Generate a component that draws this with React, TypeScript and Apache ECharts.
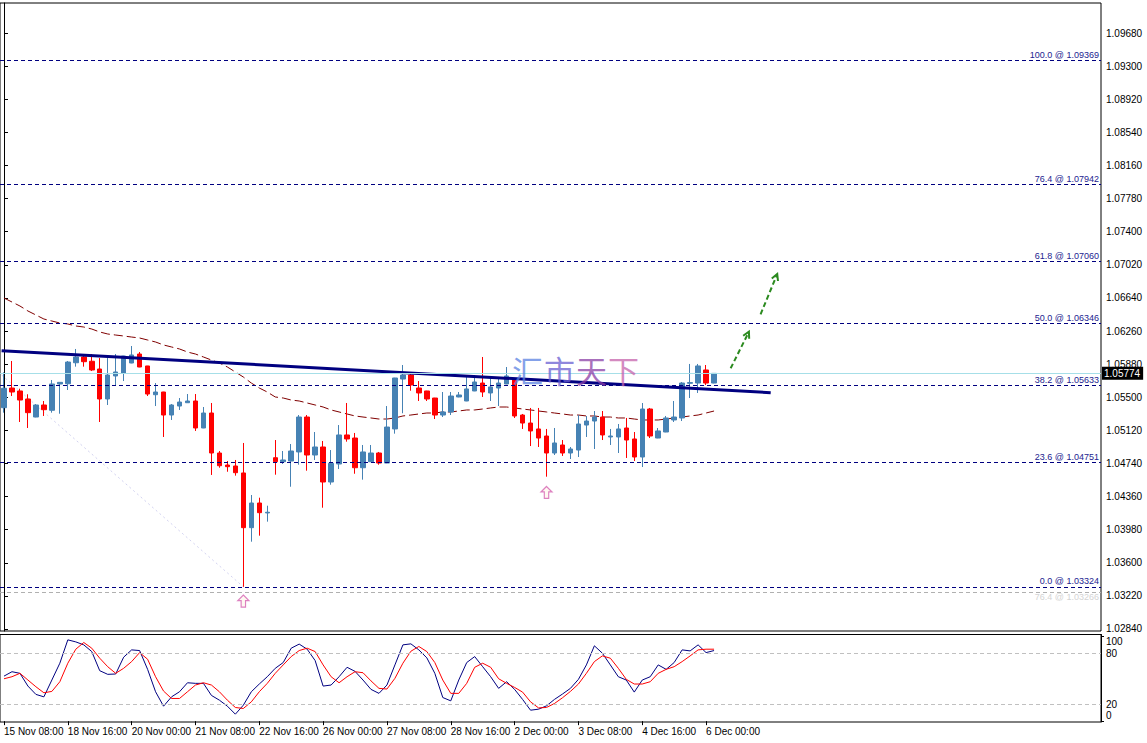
import React, { useEffect, useRef } from 'react';
import * as echarts from 'echarts';

const SLOTS = 138;

const timeLabels = ['15 Nov 08:00', '18 Nov 16:00', '20 Nov 00:00', '21 Nov 08:00', '22 Nov 16:00', '26 Nov 00:00', '27 Nov 08:00', '28 Nov 16:00', '2 Dec 00:00', '3 Dec 08:00', '4 Dec 16:00', '6 Dec 00:00'];

const priceTicks = [1.0284, 1.0322, 1.036, 1.0398, 1.0436, 1.0474, 1.0512, 1.055, 1.0588, 1.0626, 1.0664, 1.0702, 1.074, 1.0778, 1.0816, 1.0854, 1.0892, 1.093, 1.0968];

const openP = [1.05380, 1.05606, 1.05572, 1.05480, 1.05273, 1.05411, 1.05350, 1.05652, 1.05655, 1.05896, 1.05962, 1.05913, 1.05824, 1.05480, 1.05744, 1.05778, 1.05893, 1.05996, 1.05859, 1.05529, 1.05560, 1.05296, 1.05399, 1.05437, 1.05457, 1.05147, 1.05319, 1.04860, 1.04722, 1.04711, 1.04631, 1.04003, 1.04286, 1.04172, 1.04806, 1.04760, 1.04768, 1.04872, 1.05273, 1.04837, 1.04929, 1.04527, 1.04734, 1.05067, 1.05032, 1.04691, 1.04760, 1.04860, 1.04745, 1.05136, 1.05709, 1.05755, 1.05606, 1.05572, 1.05491, 1.05296, 1.05331, 1.05503, 1.05457, 1.05572, 1.05663, 1.05549, 1.05606, 1.05652, 1.05698, 1.05296, 1.05204, 1.05136, 1.05055, 1.04860, 1.04952, 1.04860, 1.04894, 1.05181, 1.05227, 1.05273, 1.05044, 1.05044, 1.05147, 1.05021, 1.04814, 1.05365, 1.05032, 1.05101, 1.05239, 1.05262, 1.05660, 1.05663, 1.05813, 1.05663];
const closeP = [1.05603, 1.05560, 1.05468, 1.05323, 1.05411, 1.05357, 1.05652, 1.05671, 1.05904, 1.05962, 1.05908, 1.05813, 1.05480, 1.05755, 1.05790, 1.05973, 1.05985, 1.05847, 1.05537, 1.05560, 1.05296, 1.05411, 1.05445, 1.05457, 1.05147, 1.05319, 1.04860, 1.04714, 1.04703, 1.04634, 1.04003, 1.04286, 1.04175, 1.04180, 1.04760, 1.04780, 1.04883, 1.05273, 1.04837, 1.04929, 1.04527, 1.04742, 1.05067, 1.05021, 1.04691, 1.04872, 1.04860, 1.04745, 1.05158, 1.05721, 1.05755, 1.05641, 1.05549, 1.05480, 1.05296, 1.05331, 1.05514, 1.05526, 1.05595, 1.05675, 1.05560, 1.05618, 1.05663, 1.05744, 1.05285, 1.05204, 1.05113, 1.05032, 1.04860, 1.04975, 1.04860, 1.04906, 1.05193, 1.05227, 1.05273, 1.05067, 1.05055, 1.05136, 1.05009, 1.04814, 1.05365, 1.05055, 1.05113, 1.05262, 1.05273, 1.05663, 1.05668, 1.05859, 1.05663, 1.05774];
const lowP = [1.05323, 1.05514, 1.05216, 1.05147, 1.05270, 1.05285, 1.05323, 1.05311, 1.05583, 1.05851, 1.05851, 1.05801, 1.05216, 1.05411, 1.05629, 1.05686, 1.05890, 1.05845, 1.05514, 1.05399, 1.05044, 1.05239, 1.05354, 1.05435, 1.05113, 1.05145, 1.04608, 1.04691, 1.04645, 1.04600, 1.03324, 1.03842, 1.03911, 1.04072, 1.04611, 1.04734, 1.04473, 1.04726, 1.04657, 1.04780, 1.04232, 1.04496, 1.04676, 1.04990, 1.04622, 1.04554, 1.04758, 1.04726, 1.04743, 1.05082, 1.05316, 1.05575, 1.05457, 1.05457, 1.05250, 1.05273, 1.05296, 1.05500, 1.05455, 1.05570, 1.05503, 1.05457, 1.05399, 1.05650, 1.05262, 1.05136, 1.04940, 1.04929, 1.04588, 1.04837, 1.04826, 1.04791, 1.04814, 1.05044, 1.04906, 1.05009, 1.04952, 1.04860, 1.04803, 1.04768, 1.04699, 1.05032, 1.05030, 1.05099, 1.05216, 1.05227, 1.05491, 1.05549, 1.05641, 1.05660];
const highP = [1.05786, 1.05916, 1.05598, 1.05534, 1.05422, 1.05457, 1.05698, 1.05673, 1.05916, 1.06054, 1.05996, 1.05996, 1.05950, 1.05950, 1.05996, 1.05975, 1.06088, 1.06019, 1.05860, 1.05663, 1.05562, 1.05422, 1.05491, 1.05537, 1.05537, 1.05388, 1.05434, 1.04883, 1.04768, 1.04780, 1.04975, 1.04378, 1.04347, 1.04255, 1.05009, 1.04883, 1.04963, 1.05296, 1.05296, 1.05101, 1.04998, 1.04894, 1.05181, 1.05434, 1.05090, 1.04952, 1.04952, 1.04872, 1.05399, 1.05723, 1.05870, 1.05782, 1.05686, 1.05574, 1.05493, 1.05560, 1.05560, 1.05560, 1.05732, 1.05755, 1.05962, 1.05721, 1.05721, 1.05847, 1.05700, 1.05308, 1.05377, 1.05377, 1.05136, 1.05147, 1.05009, 1.04929, 1.05296, 1.05285, 1.05342, 1.05342, 1.05136, 1.05193, 1.05262, 1.05101, 1.05434, 1.05377, 1.05147, 1.05285, 1.05457, 1.05675, 1.05882, 1.05882, 1.05870, 1.05776];

const maLine = [1.06639, 1.06593, 1.06547, 1.06490, 1.06444, 1.06398, 1.06375, 1.06352, 1.06341, 1.06318, 1.06306, 1.06283, 1.06249, 1.06226, 1.06214, 1.06203, 1.06191, 1.06180, 1.06157, 1.06134, 1.06100, 1.06077, 1.06054, 1.06019, 1.05996, 1.05962, 1.05927, 1.05893, 1.05847, 1.05790, 1.05732, 1.05663, 1.05606, 1.05560, 1.05503, 1.05491, 1.05468, 1.05457, 1.05434, 1.05411, 1.05388, 1.05354, 1.05331, 1.05308, 1.05285, 1.05273, 1.05262, 1.05250, 1.05250, 1.05262, 1.05285, 1.05296, 1.05308, 1.05319, 1.05319, 1.05331, 1.05331, 1.05342, 1.05354, 1.05354, 1.05365, 1.05377, 1.05388, 1.05388, 1.05377, 1.05365, 1.05354, 1.05342, 1.05331, 1.05319, 1.05308, 1.05296, 1.05296, 1.05285, 1.05285, 1.05273, 1.05273, 1.05262, 1.05262, 1.05250, 1.05239, 1.05239, 1.05239, 1.05250, 1.05262, 1.05273, 1.05285, 1.05296, 1.05319, 1.05342];

const stochK = [53, 58.2, 56.3, 41.3, 31.5, 28.6, 48.4, 68.2, 95.7, 93.3, 89.8, 81.9, 59.4, 55.1, 55.5, 75.3, 83.9, 83.1, 61, 34.6, 17.6, 28.6, 34.6, 45.2, 44.5, 44.5, 30.3, 24.7, 17.6, 8.2, 18.8, 34.6, 43.7, 52.3, 62.2, 69, 85.9, 90.7, 84.7, 71.3, 41.3, 42.5, 52.3, 63.4, 58.6, 48.4, 37.4, 32.7, 42.5, 66.2, 89.8, 91, 83.9, 74.5, 56.3, 27.8, 23.9, 48.4, 69, 76, 64.1, 52.3, 38.6, 46.4, 37.4, 25.6, 12.9, 14.1, 18, 25.6, 31.9, 38.6, 49.2, 66.2, 88.7, 80, 66.2, 52.3, 48.4, 34.2, 48.4, 52.3, 66.2, 61, 69, 83.9, 82.7, 89.8, 80.7, 83.1];
const stochD = [49.9, 52.3, 56.3, 48.4, 40.5, 33.4, 35, 46.4, 68.2, 84.7, 92.6, 85.9, 74.1, 64.1, 56.3, 62.2, 70.1, 80.7, 72.9, 52.3, 35.4, 26.7, 26.7, 34.6, 42.5, 45.2, 42.5, 34.6, 24.7, 16.1, 14.9, 22.7, 34.6, 44.5, 56.3, 66.2, 76, 83.1, 85.9, 81.9, 66.2, 52.3, 45.2, 52.3, 58.2, 57, 47.4, 38.6, 37.8, 50.4, 68.2, 82.3, 87.9, 81.9, 69, 48.4, 32.7, 32.7, 44.5, 63.4, 68.2, 63.4, 49.9, 44.5, 39.7, 34.2, 22.7, 15.6, 16.1, 20.8, 27.5, 35, 43.7, 56.3, 70.1, 76.8, 74.1, 62.2, 49.2, 43.7, 43.7, 46.4, 56.3, 61, 64.1, 70.1, 76.8, 83.9, 84.7, 84.7];

const fibRatios = ['100.0', '76.4', '61.8', '50.0', '38.2', '23.6', '0.0'];
const fibPrices = [1.09369, 1.07942, 1.0706, 1.06346, 1.05633, 1.04751, 1.03324];
const oldFibRatio = '76.4';
const oldFibPrice = 1.03266;
const lastPrice = 1.05774;

const trendLine = [[-0.3, 1.06034], [96.1, 1.05552]];
const fibDiagonal = [[-0.3, 1.05755], [30, 1.03324]];
const forecastArrows = [[91.08, 1.05832, 93.37, 1.06252], [94.83, 1.06452, 96.92, 1.06914]];
const lowMarks = [[30, 1.03161], [68, 1.04407]];

const FONT = "'Liberation Sans', Arial, sans-serif";

export default function App() {
  const ref = useRef<HTMLDivElement>(null);
  useEffect(() => {
    if (!ref.current) return;
    const chart = echarts.init(ref.current, null, { renderer: 'svg' });
    const cats = Array.from({ length: SLOTS }, (_, i) => String(i));
    const candles = openP.map((o, i) => [o, closeP[i], lowP[i], highP[i]]);
    const tickInt = (i: number) => i % 8 === 0 && i / 8 < timeLabels.length;

    const fibData: any[] = fibPrices.map((p, i) => ({
      yAxis: p,
      lineStyle: { color: '#000080', type: [4, 3], width: 1 },
      label: {
        show: true, position: 'insideEndTop', distance: [2, 1],
        formatter: `${fibRatios[i]} @ ${p.toFixed(5)}`,
        color: '#23238f', fontSize: 9, fontFamily: FONT,
      },
    }));
    fibData.push({
      yAxis: oldFibPrice,
      lineStyle: { color: '#b0b0b0', type: [4, 3], width: 1 },
      label: {
        show: true, position: 'insideEndBottom', distance: [2, 1],
        formatter: `${oldFibRatio} @ ${oldFibPrice.toFixed(5)}`,
        color: '#d4d4d4', fontSize: 9, fontFamily: FONT,
      },
    });
    fibData.push({
      yAxis: lastPrice,
      lineStyle: { color: '#a6dfe8', type: 'solid', width: 1 },
      label: {
        show: true, position: 'end', distance: 1,
        formatter: lastPrice.toFixed(5),
        color: '#fff', backgroundColor: '#000', padding: [2, 3, 1, 2],
        fontSize: 10, fontFamily: FONT,
      },
    });

    const option: any = {
      animation: false,
      backgroundColor: '#ffffff',
      grid: [
        { left: -1.7, top: 3, width: 1102.7, height: 628, show: true, borderColor: '#000', borderWidth: 1 },
        { left: -1.7, top: 634.5, width: 1102.7, height: 87.5, show: true, borderColor: '#000', borderWidth: 1 },
      ],
      xAxis: [
        { type: 'category', gridIndex: 0, data: cats, boundaryGap: true, show: false },
        { type: 'value', gridIndex: 0, min: -0.5, max: SLOTS - 0.5, show: false },
        {
          type: 'category', gridIndex: 1, data: cats, boundaryGap: true,
          axisLine: { show: false },
          axisTick: { show: true, alignWithLabel: true, interval: tickInt, length: 4, lineStyle: { color: '#000' } },
          axisLabel: {
            interval: tickInt, align: 'left', margin: 4, color: '#000', fontSize: 10, fontFamily: FONT,
            showMinLabel: true,
            formatter: (_v: string, i: number) => timeLabels[i / 8] ?? '',
          },
          splitLine: { show: false },
        },
      ],
      yAxis: [
        {
          type: 'value', gridIndex: 0, position: 'right', min: 1.02817, max: 1.10025,
          axisLine: { show: true, lineStyle: { color: '#000' } },
          axisTick: { show: true, customValues: priceTicks, length: 4, lineStyle: { color: '#000' } },
          axisLabel: {
            customValues: priceTicks, formatter: (v: number) => v.toFixed(5),
            color: '#000', fontSize: 10, fontFamily: FONT, margin: 5,
          },
          splitLine: { show: false },
        },
        {
          type: 'value', gridIndex: 1, position: 'right', min: -1, max: 102,
          axisLine: { show: true, lineStyle: { color: '#000' } },
          axisTick: { show: true, customValues: [0, 100], length: 3, lineStyle: { color: '#000' } },
          axisLabel: {
            customValues: [0, 20, 80, 100], color: '#000', fontSize: 10, fontFamily: FONT, margin: 5,
            formatter: (v: number) => (v === 100 ? '{t|100}' : v === 0 ? '{b|0}' : String(v)),
            rich: {
              t: { padding: [11, 0, 0, 0], fontSize: 10, fontFamily: FONT, color: '#000' },
              b: { padding: [0, 0, 11, 0], fontSize: 10, fontFamily: FONT, color: '#000' },
            },
          },
          splitLine: { show: false },
        },
      ],
      graphic: [
        {
          type: 'text', left: 512, top: 354, z: 20, silent: true,
          style: {
            text: '{a|汇}{b|市}{c|天}{d|下}',
            fontSize: 31, fontFamily: "'Noto Sans CJK SC', sans-serif", opacity: 0.75,
            rich: {
              a: { fill: '#5b82e2', fontSize: 31, fontFamily: "'Noto Sans CJK SC', sans-serif", padding: [0, 1, 0, 0] },
              b: { fill: '#6a5fd2', fontSize: 31, fontFamily: "'Noto Sans CJK SC', sans-serif", padding: [0, 1, 0, 0] },
              c: { fill: '#8c3fa6', fontSize: 31, fontFamily: "'Noto Sans CJK SC', sans-serif", padding: [0, 1, 0, 0] },
              d: { fill: '#c664ac', fontSize: 31, fontFamily: "'Noto Sans CJK SC', sans-serif" },
            },
          },
        },
      ],
      series: [
        {
          type: 'line', xAxisIndex: 1, yAxisIndex: 0, data: fibDiagonal, symbol: 'none', silent: true,
          lineStyle: { color: '#d2d2f0', width: 1, type: [2, 3] }, z: 1,
        },
        {
          type: 'line', xAxisIndex: 0, yAxisIndex: 0, data: maLine, symbol: 'none', silent: true,
          lineStyle: { color: '#800000', width: 1, type: [9, 4] }, z: 2,
        },
        {
          type: 'candlestick', xAxisIndex: 0, yAxisIndex: 0, data: candles, barWidth: 5, z: 3,
          itemStyle: { color: '#4682B4', color0: '#FF0000', borderColor: '#4682B4', borderColor0: '#FF0000', borderWidth: 1 },
          markLine: { silent: true, symbol: ['none', 'none'], animation: false, precision: 5, data: fibData },
        },
        {
          type: 'line', xAxisIndex: 1, yAxisIndex: 0, data: trendLine, symbol: 'none', silent: true,
          lineStyle: { color: '#000080', width: 3 }, z: 4,
        },
        {
          type: 'custom', xAxisIndex: 1, yAxisIndex: 0, data: forecastArrows, silent: true, z: 5,
          encode: { x: [0, 2], y: [1, 3] },
          renderItem: (_params: any, api: any) => {
            const p0 = api.coord([api.value(0), api.value(1)]);
            const p1 = api.coord([api.value(2), api.value(3)]);
            const dx = p1[0] - p0[0];
            const dy = p1[1] - p0[1];
            const len = Math.sqrt(dx * dx + dy * dy);
            const ux = dx / len;
            const uy = dy / len;
            const hl = 7;
            const ang = 0.5;
            const cos = Math.cos(ang);
            const sin = Math.sin(ang);
            const bx = -ux;
            const by = -uy;
            const a = [p1[0] + hl * (bx * cos - by * sin), p1[1] + hl * (bx * sin + by * cos)];
            const b = [p1[0] + hl * (bx * cos + by * sin), p1[1] + hl * (-bx * sin + by * cos)];
            return {
              type: 'group',
              children: [
                { type: 'line', shape: { x1: p0[0], y1: p0[1], x2: p1[0] - ux * 1.5, y2: p1[1] - uy * 1.5 }, style: { stroke: '#2b8a1f', lineWidth: 2, lineDash: [5, 3] } },
                { type: 'polyline', shape: { points: [a, p1, b] }, style: { stroke: '#2b8a1f', lineWidth: 2, fill: null } },
              ],
            };
          },
        },
        {
          type: 'scatter', xAxisIndex: 1, yAxisIndex: 0, data: lowMarks, silent: true, z: 5,
          symbol: 'path://M5 0 L10 5.5 L7 5.5 L7 12 L3 12 L3 5.5 L0 5.5 Z', symbolSize: [11, 12],
          itemStyle: { color: '#fff6ee', borderColor: '#d462b2', borderWidth: 1.2 },
        },
        {
          type: 'line', xAxisIndex: 2, yAxisIndex: 1, data: stochK, symbol: 'none', silent: true,
          lineStyle: { color: '#000080', width: 1 }, z: 3,
          markLine: {
            silent: true, symbol: ['none', 'none'], animation: false, label: { show: false },
            lineStyle: { color: '#c0c0c0', type: [4, 3], width: 1 },
            data: [{ yAxis: 80 }, { yAxis: 20 }],
          },
        },
        {
          type: 'line', xAxisIndex: 2, yAxisIndex: 1, data: stochD, symbol: 'none', silent: true,
          lineStyle: { color: '#FF0000', width: 1 }, z: 3,
        },
      ],
    };
    chart.setOption(option);
    return () => chart.dispose();
  }, []);
  return (
    <div
      ref={ref}
      style={{ position: 'absolute', left: 0, top: 0, width: '1147px', height: '743px', background: '#fff' }}
    />
  );
}
